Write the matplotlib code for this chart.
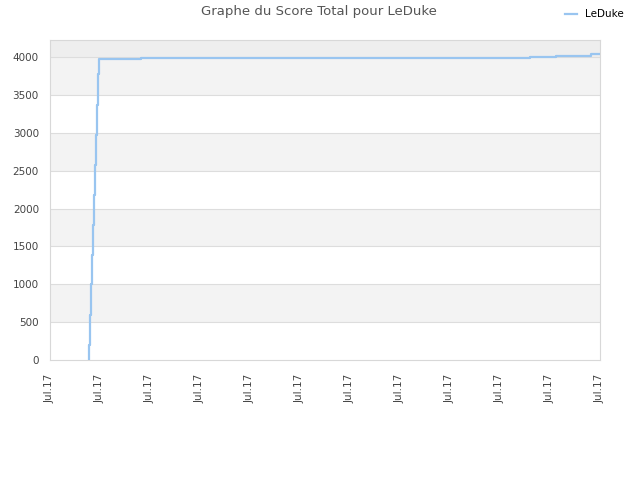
import matplotlib
matplotlib.use('Agg')
import matplotlib.pyplot as plt

# step points (x in tick units, score)
x_pts = [0.78, 0.78, 0.80, 0.82, 0.846, 0.866, 0.886, 0.906, 0.926, 0.946, 0.966, 0.986, 1.82, 9.6, 10.12, 10.82, 11.0]
scores = [0, 200, 600, 1000, 1390, 1780, 2180, 2580, 2970, 3370, 3770, 3975, 3990, 4004, 4017, 4036, 4036]
tick_labels = ['Jul.17'] * 12

fig = plt.figure(figsize=(6.4, 4.8), dpi=100)
ax = fig.add_axes([50/640, 1 - 360/480, 550/640, 320/480])

ymax = 4225
# alternating bands
for i, lo in enumerate(range(0, 4500, 500)):
    hi = min(lo + 500, ymax)
    if lo >= 4000:
        col = '#eeeeee'
    elif i % 2 == 1:
        col = '#f3f3f3'
    else:
        col = '#ffffff'
    ax.axhspan(lo, hi, color=col, zorder=0, lw=0)
for v in range(500, 4500, 500):
    ax.axhline(v, color='#dddddd', lw=0.8, zorder=1)

ax.plot(x_pts, scores, drawstyle='steps-post', color='#99c5f0', lw=1.6, label='LeDuke', zorder=3)

ax.set_xlim(0, 11)
ax.set_ylim(0, ymax)
ax.set_xticks(range(12))
ax.set_xticklabels(tick_labels, rotation=90, fontsize=7.5, color='#444444')
ax.set_yticks(range(0, 4500, 500))
ax.tick_params(axis='y', labelsize=7.5, colors='#444444', length=0, pad=8)
ax.tick_params(axis='x', length=0, pad=10)
for s in ax.spines.values():
    s.set_color('#d8d8d8')

fig.suptitle('Graphe du Score Total pour LeDuke', x=319/640, y=1 - 12/480, va='center', fontsize=9.5, color='#555555')
fig.legend(loc='upper right', bbox_to_anchor=(0.99, 1.0), frameon=False, fontsize=7.5, handlelength=1.2)

fig.savefig('out.png', dpi=100)
